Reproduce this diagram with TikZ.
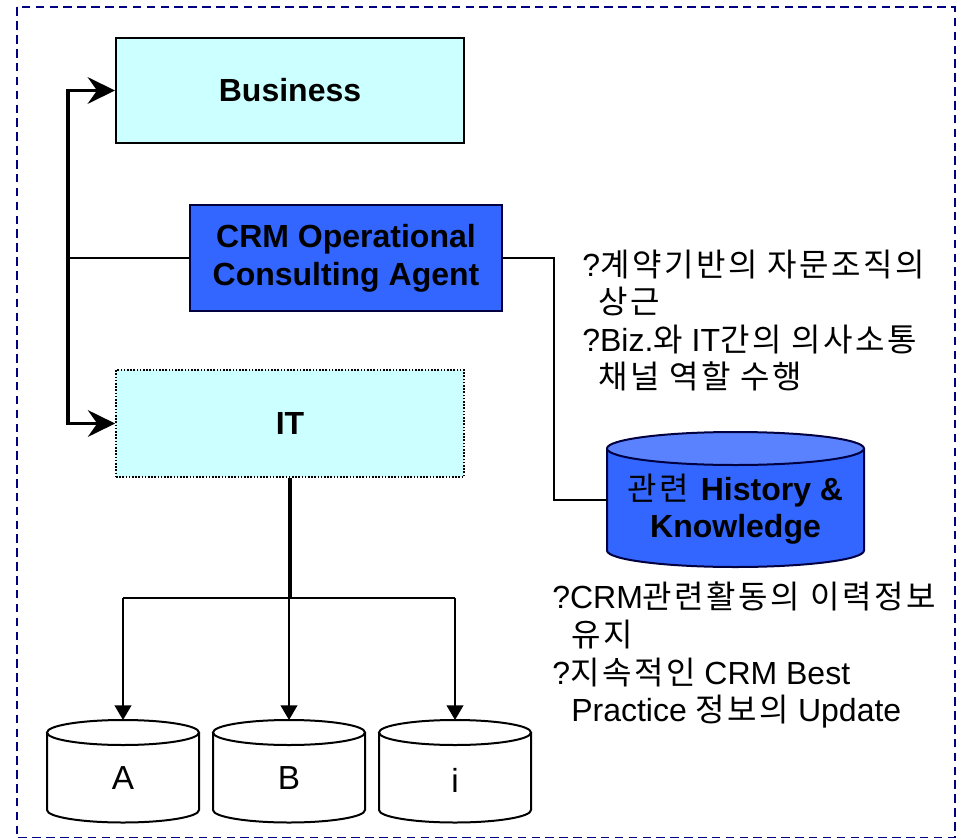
\documentclass[tikz,border=0pt]{standalone}
\usepackage{fontspec}
\setmainfont{Liberation Sans}
\newfontfamily\kr[LetterSpace=8]{Noto Sans CJK KR}
\usetikzlibrary{arrows.meta}
\definecolor{cyanfill}{HTML}{CCFFFF}
\definecolor{crmblue}{HTML}{3366FF}
\definecolor{crmtop}{HTML}{5A82FF}
\definecolor{navyline}{HTML}{000080}
\definecolor{darkedge}{HTML}{000040}
\newcommand\dbcyl[9]{%
  \path[fill=#7] ({#2-#5},#3) -- ({#2-#5},#4) arc[start angle=180,end angle=0,x radius=#5,y radius=#6] -- ({#2+#5},#3) -- cycle;
  \draw[draw=#9,line width=1.5pt] ({#2-#5},#3) -- ({#2-#5},#4) arc[start angle=180,end angle=0,x radius=#5,y radius=#6] -- ({#2+#5},#3);
  \draw[draw=#9,fill=#8,line width=1.5pt] (#2,#3) ellipse [x radius=#5,y radius=#6];
  \node[inner sep=0pt,outer sep=0pt,minimum width={1.5pt*#5},minimum height={0.75pt*(#4-#3+2*#6)}] (#1) at (#2,{(#3+#4)/2}) {};
}
\begin{document}
\begin{tikzpicture}[x=0.75pt,y=-0.75pt,
  frame/.style={draw=navyline,line width=1.5pt,dash pattern=on 6.4pt off 4pt},
  boxnode/.style={line width=1.5pt,inner sep=0pt,align=center,
    font=\bfseries\fontsize{24}{28.5}\selectfont},
  busline/.style={line width=2.3pt},
  thinline/.style={line width=1.5pt},
  stealthtip/.style={-{Stealth[length=20.5pt,width=20pt,inset=7pt]}},
  tritip/.style={-{Triangle[length=11pt,width=12.5pt]}},
  txt/.style={anchor=base west,inner sep=0pt,font=\fontsize{24}{28}\selectfont},
  ctxt/.style={anchor=base,inner sep=0pt,font=\fontsize{24}{28}\selectfont},
  dblab/.style={inner sep=0pt,font=\fontsize{25}{30}\selectfont}]
\useasboundingbox (0,0) rectangle (956,838);
\draw[frame] (16.5,7.5) rectangle (954.5,837.5);

% boxes
\node[boxnode,draw=black,fill=cyanfill,minimum width=261pt,minimum height=78.75pt] (biz) at (290,90.5) {Business};
\node[boxnode,draw=darkedge,fill=crmblue,minimum width=234pt,minimum height=79.5pt] (crm) at (346,258) {CRM Operational\\Consulting Agent};
\node[boxnode,draw=black,fill=cyanfill,dash pattern=on 1.2pt off 1.2pt,line width=1.2pt,minimum width=261pt,minimum height=80.25pt] (it) at (290,423.5) {IT};

% cylinders
\dbcyl{hist}{735.5}{448.5}{550.5}{128.5}{16.5}{crmblue}{crmtop}{darkedge}
\dbcyl{dba}{123}{732.5}{810}{76}{12.5}{white}{white}{black}
\dbcyl{dbb}{289}{732.5}{810}{76}{12.5}{white}{white}{black}
\dbcyl{dbi}{455}{732.5}{810}{76}{12.5}{white}{white}{black}

\node[dblab] (la) at (123,778) {A};
\node[dblab] (lb) at (289,778) {B};
\node[dblab] (li) at (455,780) {i};

\node[ctxt] (h1) at (735.5,500) {{\kr 관련} \textbf{History \&}};
\node[ctxt] (h2) at (735.5,537) {\textbf{Knowledge}};

% notes
\node[txt] (n1) at (582,276) {?{\kr 계약기반의 자문조직의}};
\node[txt] (n2) at (598,313) {{\kr 상근}};
\node[txt] (n3) at (582,351) {?Biz.{\kr 와} IT{\kr 간의 의사소통}};
\node[txt] (n4) at (598,388) {{\kr 채널 역할 수행}};
\node[txt] (m1) at (552,608) {?CRM{\kr 관련활동의 이력정보}};
\node[txt] (m2) at (571,646) {{\kr 유지}};
\node[txt] (m3) at (552,684) {?{\kr 지속적인} CRM Best};
\node[txt] (m4) at (571,721) {Practice {\kr 정보의} Update};

% connectors
\coordinate (busx) at (68,258);
\draw[thinline] (crm.west) -- (busx);
\draw[busline,stealthtip] (busx) |- (biz.west);
\draw[busline,stealthtip] (busx) |- (it.west);

\coordinate (turn) at (554,258);
\draw[thinline] (crm.east) -- (turn) |- (hist.west);

\coordinate (split) at (290,598);
\draw[busline] (it.south) -- (split);
\draw[thinline] (dba.north |- split) -- (dbi.north |- split);
\draw[thinline,tritip] (dba.north |- split) -- (dba.north);
\draw[thinline,tritip] (dbb.north |- split) -- (dbb.north);
\draw[thinline,tritip] (dbi.north |- split) -- (dbi.north);
\end{tikzpicture}
\end{document}
